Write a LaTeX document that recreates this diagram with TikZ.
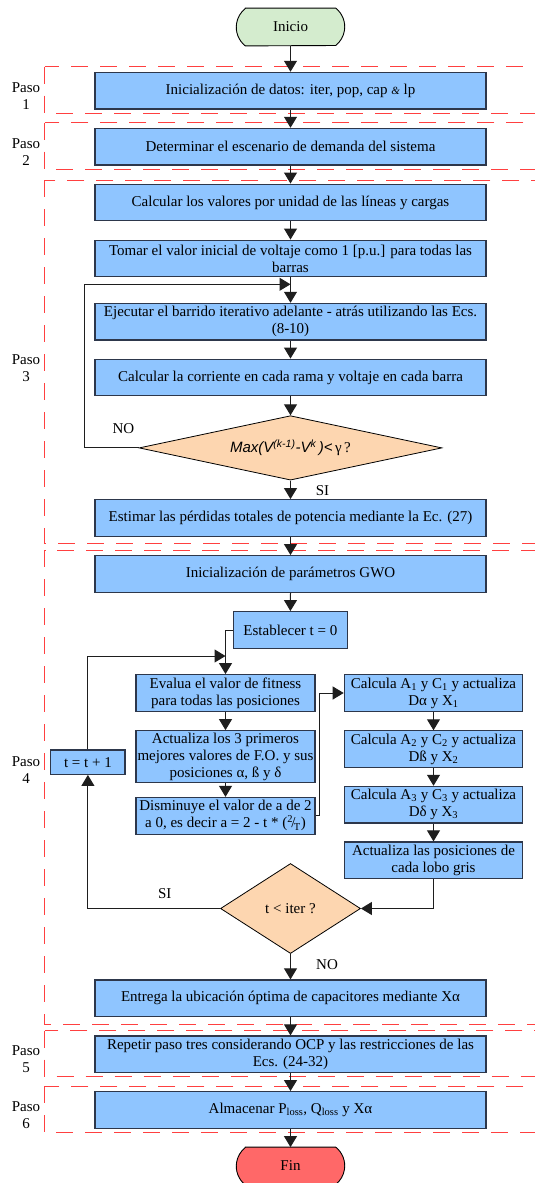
\documentclass[tikz,border=0pt]{standalone}
\usepackage{fontspec}
\setmainfont{Liberation Serif}
\setsansfont{Liberation Sans}
\usetikzlibrary{shapes.geometric,arrows.meta,backgrounds}

\definecolor{boxblue}{RGB}{143,197,255}
\definecolor{boxedge}{RGB}{45,55,75}
\definecolor{stepred}{RGB}{255,64,64}
\definecolor{startgreen}{RGB}{212,236,206}
\definecolor{endred}{RGB}{255,104,104}
\definecolor{decfill}{RGB}{253,214,176}
\definecolor{wire}{RGB}{30,30,30}

\begin{document}
\begin{tikzpicture}[x=1pt,y=-1pt,
  font=\fontsize{15}{17}\selectfont,
  proc/.style={draw=boxedge, line width=1.2pt, fill=boxblue, inner sep=0pt,
    align=center, minimum height=36.7pt},
  wide/.style={proc, minimum width=391pt},
  col/.style={proc, minimum width=178.4pt},
  narrowcol/.style={proc, minimum width=179pt},
  decision/.style={diamond, draw=black, line width=0.8pt, fill=decfill, inner sep=0pt},
  stage/.style={draw=stepred, line width=1pt, dash pattern=on 17pt off 12pt},
  stagelabel/.style={align=center, inner sep=0pt},
  flow/.style={draw=wire, line width=1pt, -{Triangle[length=11pt,width=13pt]}},
  terminal/.style={inner sep=0pt, minimum width=90pt, minimum height=37.4pt},
  lbl/.style={inner sep=0pt},
  capsule/.style={draw=black, line width=0.9pt}
]
\useasboundingbox (0,0) rectangle (535,1183);
\begin{scope}[on background layer]
  \fill[white] (0,0) rectangle (535,1183);
\end{scope}
\clip (0,0) rectangle (535,1183);

% dashed frames of the six steps
\draw[stage] (44.7,66.7) rectangle (600,113);
\draw[stage] (44.7,122.5) rectangle (600,169);
\draw[stage] (44.7,180) rectangle (600,543.5);
\draw[stage] (44.7,550) rectangle (600,1024.3);
\draw[stage] (44.7,1030.7) rectangle (600,1076.7);
\draw[stage] (44.7,1086) rectangle (600,1132.5);

\node[stagelabel] (p1) at (26,96) {Paso~\\1};
\node[stagelabel] (p2) at (26,152) {Paso~\\2};
\node[stagelabel] (p3) at (26,368) {Paso~\\3};
\node[stagelabel] (p4) at (26,770) {Paso~\\4};
\node[stagelabel] (p5) at (26,1059) {Paso~\\5};
\node[stagelabel] (p6) at (26,1115.5) {Paso~\\6};

% start
\node[terminal] (inicio) at (290.5,27) {Inicio};
\begin{scope}[on background layer]
  \draw[capsule, fill=startgreen] (inicio.north west) -- (inicio.north east)
    arc[start angle=51.5, end angle=-51.5, radius=23.9pt] -- (inicio.south west)
    arc[start angle=231.5, end angle=128.5, radius=23.9pt] -- cycle;
\end{scope}

% steps 1 to 3
\node[wide] (s1) at (290.5,90.7) {Inicialización de datos: iter, pop, cap {\fontsize{11}{11}\selectfont\itshape\&} lp};
\node[wide] (s2) at (290.5,146.7) {Determinar el escenario de demanda del sistema};
\node[wide] (pu) at (290.5,202.5) {Calcular los valores por unidad de las líneas y cargas};
\node[wide] (v0) at (290.5,258.5) {Tomar el valor inicial de voltaje como 1 [p.u.] para todas las\\barras};
\node[wide] (sweep) at (290.5,321.7) {Ejecutar el barrido iterativo adelante - atrás utilizando las Ecs.\\(8-10)};
\node[wide] (branch) at (290.5,377.5) {Calcular la corriente en cada rama y voltaje en cada barra};
\node[decision, minimum width=302.8pt, minimum height=64.4pt, shape aspect=4.7] (conv) at (290.5,447.9)
  {{\sffamily\itshape Max(V\textsuperscript{(k-1)}-V\textsuperscript{k}\,)<}\,γ\,?};
\node[wide] (loss) at (290.5,518) {Estimar las pérdidas totales de potencia mediante la Ec. (27)};

\coordinate (noloop) at (84.6,284.3);
\node[lbl] (nolbl) at (123.5,428.3) {NO};
\node[lbl] (silbl) at (322.5,490.7) {SI};

% step 4: grey wolf optimizer
\node[wide] (gwo) at (290.5,574) {Inicialización de parámetros GWO};
\node[proc, minimum width=114pt] (t0) at (290.4,630) {Establecer t = 0};
\node[narrowcol] (fit) at (225.5,693) {Evalua el valor de fitness\\para todas las posiciones};
\node[narrowcol, minimum height=51.6pt] (best) at (225.5,756.5) {Actualiza los 3 primeros\\mejores valores de F.O. y sus\\posiciones α, ß y δ};
\node[narrowcol] (dec) at (225.5,815.8) {Disminuye el valor de a de 2\\a 0, es decir a = 2 - t * (\textsuperscript{2}\kern-0.12em/\kern-0.1em\textsubscript{T})};
\node[col] (a1) at (433.5,693) {Calcula A\textsubscript{1} y C\textsubscript{1} y actualiza\\Dα y X\textsubscript{1}};
\node[col] (a2) at (433.5,749.2) {Calcula A\textsubscript{2} y C\textsubscript{2} y actualiza\\Dß y X\textsubscript{2}};
\node[col] (a3) at (433.5,804.7) {Calcula A\textsubscript{3} y C\textsubscript{3} y actualiza\\Dδ y X\textsubscript{3}};
\node[col] (upd) at (433.5,860.3) {Actualiza las posiciones de\\cada lobo gris};
\node[proc, minimum width=74.3pt, minimum height=24.3pt] (inc) at (87.9,762.2) {t = t + 1};
\node[decision, minimum width=140pt, minimum height=90pt, shape aspect=1.56] (iter) at (290.5,908.5) {t < iter ?};
\node[wide] (xbest) at (290.5,998.3) {Entrega la ubicación óptima de capacitores mediante Xα};

\coordinate (rejoin) at (225.5,656);
\coordinate (bend) at (319.3,815.8);
\node[lbl] (silbl2) at (164.8,893.3) {SI};
\node[lbl] (nolbl2) at (327,964.3) {NO};

% steps 5 and 6
\node[wide] (s5) at (290.5,1054.3) {Repetir paso tres considerando OCP y las restricciones de las\\Ecs. (24-32)};
\node[wide] (s6) at (290.5,1110) {Almacenar P\textsubscript{loss}, Q\textsubscript{loss} y Xα};

% end
\node[terminal] (fin) at (290.5,1166) {Fin};
\begin{scope}[on background layer]
  \draw[capsule, fill=endred] (fin.north west) -- (fin.north east)
    arc[start angle=51.5, end angle=-51.5, radius=23.9pt] -- (fin.south west)
    arc[start angle=231.5, end angle=128.5, radius=23.9pt] -- cycle;
\end{scope}

% connectors
\draw[flow] (inicio.south) -- (s1.north);
\draw[flow] (s1.south) -- (s2.north);
\draw[flow] (s2.south) -- (pu.north);
\draw[flow] (pu.south) -- (v0.north);
\draw[flow] (v0.south) -- (sweep.north);
\draw[flow] (sweep.south) -- (branch.north);
\draw[flow] (branch.south) -- (conv.north);
\draw[flow] (conv.west) -| (noloop) -- (v0.south |- noloop);
\draw[flow] (conv.south) -- (loss.north);
\draw[flow] (loss.south) -- (gwo.north);
\draw[flow] (gwo.south) -- (t0.north);
\draw[flow] (t0.west) -| (fit.north);
\draw[flow] (inc.north) |- (rejoin);
\draw[flow] (fit.south) -- (best.north);
\draw[flow] (best.south) -- (dec.north);
\draw[flow] (dec.east) -- (bend) |- (a1.west);
\draw[flow] (a1.south) -- (a2.north);
\draw[flow] (a2.south) -- (a3.north);
\draw[flow] (a3.south) -- (upd.north);
\draw[flow] (upd.south) |- (iter.east);
\draw[flow] (iter.west) -| (inc.south);
\draw[flow] (iter.south) -- (xbest.north);
\draw[flow] (xbest.south) -- (s5.north);
\draw[flow] (s5.south) -- (s6.north);
\draw[flow] (s6.south) -- (fin.north);
\end{tikzpicture}
\end{document}
